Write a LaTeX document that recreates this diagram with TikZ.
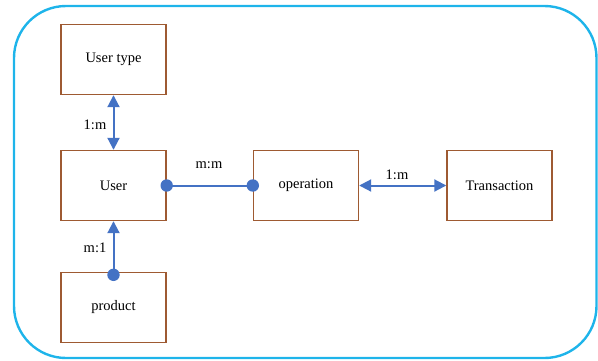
\documentclass[tikz,border=0pt]{standalone}
\usepackage{fontspec}
\setmainfont{Liberation Serif}
\usetikzlibrary{arrows.meta}
\definecolor{boxline}{HTML}{9E5A32}
\definecolor{linkblue}{HTML}{4472C4}
\definecolor{frameblue}{HTML}{1EB4EA}
\tikzset{
  entity/.style={draw=boxline, line width=1.4pt, minimum width=105pt, minimum height=70pt,
    inner sep=0pt, font=\rmfamily\fontsize{14.5}{16}\selectfont},
  conn/.style={draw=linkblue, line width=2pt},
  tip/.tip={Triangle[length=12pt,width=12pt]},
  card/.style={font=\rmfamily\fontsize{14.5}{16}\selectfont, inner sep=0pt},
  dot/.style={fill=linkblue}
}
\begin{document}
\begin{tikzpicture}[x=1pt,y=-1pt]
\useasboundingbox (0,0) rectangle (598,360);
% outer frame
\draw[frameblue, line width=2.4pt, rounded corners=52pt] (14,6) rectangle (596.5,358);
% entities
\node[entity] (usertype) at (113.5,59.5) {User type};
\node[entity] (user) at (113.5,185.5) {User};
\node[entity] (operation) at (306,185.5) {operation};
\node[entity] (transaction) at (499.5,185.5) {Transaction};
\node[entity] (product) at (113.5,307.5) {product};
% relations
\draw[conn, tip-tip] (usertype.south) -- (user.north);
\node[card] (l1) at (95,125) {1:m};
\draw[conn] (user.east) -- (operation.west);
\fill[dot] (user.east) circle (6.2pt);
\fill[dot] (operation.west) circle (6.2pt);
\node[card] (l2) at (209,165) {m:m};
\draw[conn, tip-tip] (operation.east) -- (transaction.west);
\node[card] (l3) at (397,175) {1:m};
\draw[conn, -tip] ([yshift=-3pt]product.north) -- (user.south);
\fill[dot] ([yshift=-3pt]product.north) circle (6.2pt);
\node[card] (l4) at (95,248) {m:1};
\end{tikzpicture}
\end{document}
